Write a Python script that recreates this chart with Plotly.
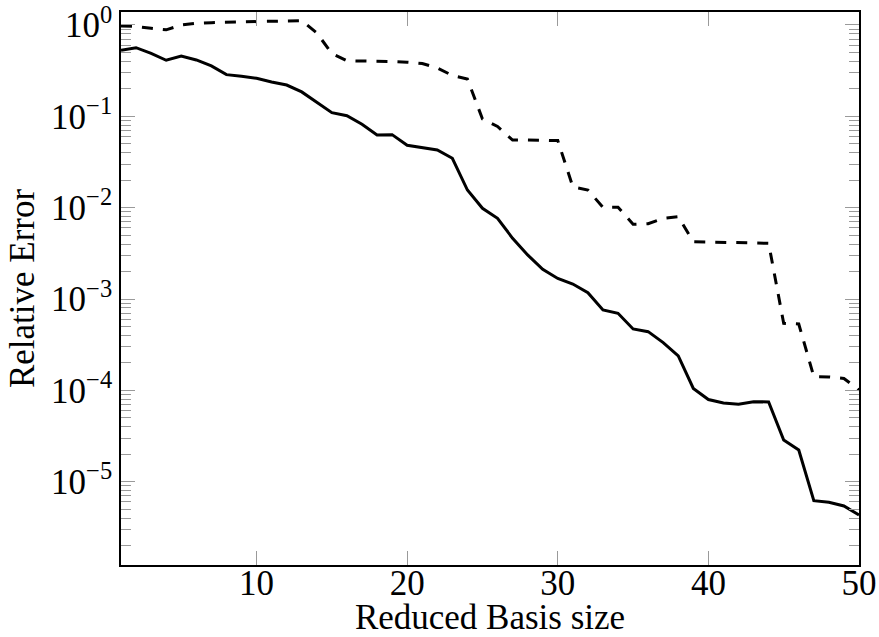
import plotly.graph_objects as go

basis_size = list(range(1, 51))

err_solid = [0.53, 0.564, 0.49, 0.411, 0.458, 0.414, 0.356, 0.286, 0.274, 0.261,
             0.238, 0.220, 0.185, 0.1435, 0.1096, 0.1016, 0.0818, 0.0625, 0.0630, 0.0482,
             0.0454, 0.0428, 0.0347, 0.0156, 0.00985, 0.00765, 0.00462, 0.00304, 0.00211, 0.00168,
             0.00146, 0.00117, 0.000758, 0.000698, 0.000470, 0.000439, 0.000333, 0.000238, 0.000105, 7.94e-5,
             7.27e-5, 7.06e-5, 7.52e-5, 7.46e-5, 2.86e-5, 2.22e-5, 6.2e-6, 5.95e-6, 5.42e-6, 4.32e-6]

err_dashed = [0.976, 0.963, 0.92, 0.885, 1.0, 1.044, 1.06, 1.074, 1.079, 1.087,
              1.098, 1.106, 1.115, 0.817, 0.487, 0.406, 0.404, 0.404, 0.398, 0.391,
              0.379, 0.338, 0.28, 0.256, 0.0935, 0.0774, 0.055, 0.055, 0.0548, 0.0543,
              0.0169, 0.0156, 0.0101, 0.0101, 0.00657, 0.00668, 0.00765, 0.00797, 0.00424, 0.00422,
              0.0042, 0.00415, 0.0041, 0.00407, 0.000542, 0.000533, 0.000141, 0.00014, 0.000135, 0.000101]

x_tick_vals = [10, 20, 30, 40, 50]
x_tick_text = ["10", "20", "30", "40", "50"]
y_tick_vals = [1e-5, 1e-4, 1e-3, 1e-2, 1e-1, 1]
y_tick_text = ["10<sup>−5</sup>", "10<sup>−4</sup>", "10<sup>−3</sup>",
               "10<sup>−2</sup>", "10<sup>−1</sup>", "10<sup>0</sup>"]
y_minor_vals = [k * 10.0 ** p for p in range(-6, 1) for k in range(2, 10)]

FONT = "Liberation Serif"
TICKC = "#9a9a9a"
FS = 35

fig = go.Figure()
fig.add_trace(go.Scatter(x=basis_size, y=err_solid, mode="lines",
                         line=dict(color="black", width=3), showlegend=False))
fig.add_trace(go.Scatter(x=basis_size, y=err_dashed, mode="lines",
                         line=dict(color="black", width=3, dash="11px,10px"), showlegend=False))

fig.update_layout(
    width=879, height=637,
    margin=dict(l=121, r=20, t=12, b=72),
    plot_bgcolor="white", paper_bgcolor="white",
    font=dict(family=FONT, size=FS, color="black"),
)
fig.update_xaxes(
    range=[1, 50], tickmode="array", tickvals=x_tick_vals, ticktext=x_tick_text,
    ticks="inside", ticklen=14, tickcolor=TICKC, tickwidth=1,
    showline=True, linecolor="black", linewidth=1.6, mirror="allticks",
    showgrid=False, zeroline=False, automargin=False,
    ticklabelstandoff=-14,
    tickfont=dict(family=FONT, size=FS, color="black"),
    title=dict(text="Reduced Basis size", font=dict(family=FONT, size=FS), standoff=12),
)
fig.update_yaxes(
    type="log", range=[-5.912, 0.142], tickmode="array",
    tickvals=y_tick_vals, ticktext=y_tick_text,
    ticks="inside", ticklen=14, tickcolor=TICKC, tickwidth=1,
    minor=dict(tickmode="array", tickvals=y_minor_vals, ticks="inside",
               ticklen=10, tickcolor=TICKC, tickwidth=1, showgrid=False),
    showline=True, linecolor="black", linewidth=1.6, mirror="allticks",
    showgrid=False, zeroline=False, automargin=False,
    tickfont=dict(family=FONT, size=FS, color="black"),
    title=dict(text="Relative Error", font=dict(family=FONT, size=FS), standoff=6),
)

fig.write_html("out.html")
